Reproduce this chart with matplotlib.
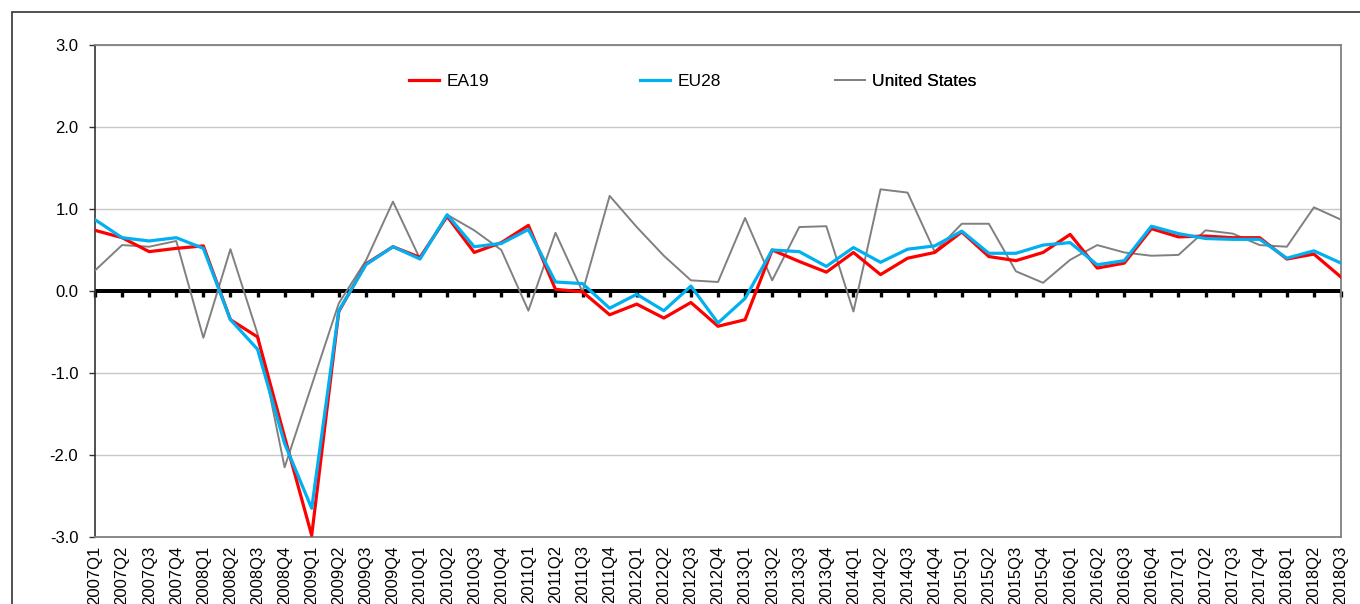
import numpy as np
import matplotlib
matplotlib.use('Agg')
import matplotlib.pyplot as plt
from matplotlib.patches import Rectangle

plt.rcParams['font.family'] = ['Liberation Sans', 'DejaVu Sans']

# 季度标签
years = range(2007, 2019)
quarters = [f'{y}Q{q}' for y in years for q in range(1, 5)][:47]

# 各序列数值 (季度环比, %)
ea19 = [0.74, 0.65, 0.48, 0.52, 0.55, -0.35, -0.56, -1.78, -2.98, -0.25,
        0.33, 0.54, 0.41, 0.91, 0.47, 0.59, 0.80, 0.02, -0.01, -0.29,
        -0.16, -0.33, -0.14, -0.43, -0.35, 0.50, 0.36, 0.23, 0.47, 0.20,
        0.40, 0.47, 0.72, 0.42, 0.37, 0.47, 0.69, 0.28, 0.34, 0.76,
        0.66, 0.67, 0.65, 0.65, 0.39, 0.45, 0.17]
eu28 = [0.87, 0.65, 0.61, 0.65, 0.52, -0.35, -0.71, -1.86, -2.65, -0.24,
        0.32, 0.54, 0.39, 0.93, 0.54, 0.58, 0.75, 0.11, 0.09, -0.21,
        -0.04, -0.24, 0.06, -0.39, -0.09, 0.50, 0.48, 0.30, 0.53, 0.35,
        0.51, 0.55, 0.73, 0.46, 0.46, 0.56, 0.59, 0.32, 0.37, 0.79,
        0.70, 0.64, 0.63, 0.63, 0.40, 0.49, 0.34]
us = [0.25, 0.56, 0.54, 0.61, -0.57, 0.51, -0.52, -2.15, -1.15, -0.15,
      0.37, 1.09, 0.39, 0.93, 0.74, 0.50, -0.24, 0.71, -0.01, 1.16,
      0.78, 0.43, 0.13, 0.11, 0.89, 0.13, 0.78, 0.79, -0.25, 1.24,
      1.20, 0.48, 0.82, 0.82, 0.24, 0.10, 0.38, 0.56, 0.47, 0.43,
      0.44, 0.74, 0.70, 0.56, 0.54, 1.02, 0.87]

W, H = 1360, 604
fig = plt.figure(figsize=(W / 100, H / 100), dpi=100)
ax = fig.add_axes([95 / W, 1 - 537 / H, (1341 - 95) / W, (537 - 45) / H])

x = np.arange(len(quarters))
l_ea, = ax.plot(x, ea19, color='#FF0000', lw=2.3, zorder=4, label='EA19')
l_eu, = ax.plot(x, eu28, color='#00B0F0', lw=2.3, zorder=5, label='EU28')
l_us, = ax.plot(x, us, color='#808080', lw=1.4, zorder=3, label='United States')

# 坐标轴范围与刻度
ax.set_xlim(0, len(quarters) - 1)
ax.set_ylim(-3, 3)
ax.set_yticks(np.arange(-3, 3.1, 1.0))
ax.set_yticklabels([f'{v:.1f}' for v in np.arange(-3, 3.1, 1.0)])
ax.set_xticks(x)
ax.set_xticklabels(quarters, rotation=90, fontsize=12)
ax.tick_params(axis='x', length=0, pad=6)
ax.tick_params(axis='y', labelsize=12, length=4, width=1, direction='out', pad=8, color='#333333')
ax.yaxis.grid(True, color='#C8C8C8', lw=1)
ax.set_axisbelow(True)

for s in ['top', 'right', 'bottom']:
    ax.spines[s].set_color('#808080')
    ax.spines[s].set_linewidth(1.3)
ax.spines['left'].set_color('#333333')
ax.spines['left'].set_linewidth(1.2)

# 零轴及其刻度
ax.axhline(0, color='black', lw=2.8, zorder=2, solid_capstyle='butt')
sec = ax.secondary_xaxis(0.5)
sec.set_alignment('bottom')
sec.set_xticks(x)
sec.set_xticklabels([])
sec.spines['bottom'].set_linewidth(2.8)
sec.spines['bottom'].set_color('black')
sec.spines['bottom'].set_capstyle('butt')
sec.tick_params(axis='x', length=4.5, width=2.4, color='black', direction='out')

# 图例
for h, xp in [(l_ea, 409), (l_eu, 640), (l_us, 835)]:
    leg = ax.legend(handles=[h], loc='center left', bbox_to_anchor=(xp / W, 1 - 81 / H),
                    bbox_transform=fig.transFigure, frameon=False, fontsize=12.5,
                    handlelength=1.75, handletextpad=0.4, borderpad=0, borderaxespad=0)
    ax.add_artist(leg)

# 外框
fig.patches.append(Rectangle((12 / W, -0.2), 2, 1.2 - 12 / H, transform=fig.transFigure,
                             fill=False, ec='#333333', lw=1.2))

fig.savefig('out.png', dpi=100)
